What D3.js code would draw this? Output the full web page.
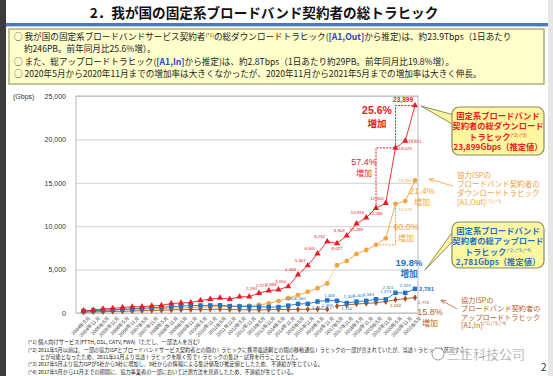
<!DOCTYPE html>
<html>
<head>
<meta charset="utf-8">
<script src="https://cdnjs.cloudflare.com/ajax/libs/d3/7.8.5/d3.min.js"></script>
<style>
body{margin:0;background:#fff;}
svg{display:block;font-family:"Noto Sans CJK JP","Noto Sans",sans-serif;}
</style>
</head>
<body>
<div id="chart"></div>
<script>
// half-year survey points
var months = ["2004年9月","2004年11月","2005年5月","2005年11月","2006年5月","2006年11月","2007年5月","2007年11月",
  "2008年5月","2008年11月","2009年5月","2009年11月","2010年5月","2010年11月","2011年5月","2011年11月",
  "2012年5月","2012年11月","2013年5月","2013年11月","2014年5月","2014年11月","2015年5月","2015年11月",
  "2016年5月","2016年11月","2017年5月","2017年11月","2018年5月","2018年11月","2019年5月","2019年11月",
  "2020年5月","2020年11月","2021年5月"];

// Gbps
var dlTotal = [265,324,470,523,637,717,721,813,881,1090,1155,1209,1450,1597,1738,1595,1869,1887,
  2290,2571,2689,3050,4408,5467,6840,8232,8027,8903,10289,10976,12086,12650,19025,19821,23899];
var dlIsp = [180,220,300,330,390,430,440,480,510,570,590,610,690,740,790,720,810,860,
  920,1120,1380,1700,2070,2450,2850,3400,5500,6000,6800,7260,7860,8600,12576,12900,15265];
var ulTotal = [230,290,330,380,430,480,540,600,650,740,800,850,870,880,900,800,760,740,
  720,691,690,850,1054,1060,1317,1459,1406,1150,1309,1401,1583,1573,2321,2323,2781];
var ulIsp = [100,130,150,180,200,230,260,290,320,360,380,400,420,430,440,400,380,370,
  360,380,400,410,420,430,440,430,800,920,1040,1100,1190,1300,1534,1650,1776];

var yTicks = [0,5000,10000,15000,20000,25000];

// which points carry a value label, and where it sits
var dlTotalLabels = [[18,"ul"],[19,"ul"],[20,"ul"],[21,"ul"],[22,"ul"],[23,"ul"],[24,"ul"],[25,"ul"],
  [26,"b"],[27,"ul"],[28,"b"],[29,"ul"],[30,"b"],[31,"ul"],[32,"r"],[33,"r"]];
var dlIspLabels = [[32,"rb"],[34,"l"]];
var ulTotalLabels = [[22,"ul"],[23,"ul"],[24,"b"],[25,"b"],[26,"ul"],[27,"b"],[28,"ul"],[29,"ul"],
  [30,"ul"],[31,"u"],[32,"ul"],[33,"u"]];
var ulIspLabels = [[32,"b"]];

var width = 553, height = 376;
var fmt = d3.format(",");
var latin = "Liberation Sans, Arial, sans-serif";

var svg = d3.select("#chart").append("svg")
    .attr("width", width)
    .attr("height", height);

// page frame
svg.append("rect").attr("width",width).attr("height",height).attr("fill","#fff");
svg.append("rect").attr("x",0).attr("y",0).attr("width",6).attr("height",height).attr("fill","#3c3c3c");
svg.append("rect").attr("x",548).attr("y",0).attr("width",5).attr("height",height).attr("fill","#e6e6e6");

// title
svg.append("text")
    .attr("x",264).attr("y",18)
    .attr("text-anchor","middle")
    .attr("font-size","13.6px").attr("font-weight","bold").attr("fill","#111")
    .text("2．我が国の固定系ブロードバンド契約者の総トラヒック");
svg.append("rect").attr("x",6).attr("y",23).attr("width",542).attr("height",3).attr("fill","#4a78b8");
svg.append("rect").attr("x",6).attr("y",26).attr("width",542).attr("height",1).attr("fill","#b8cbe6");

// summary box
svg.append("rect")
    .attr("x",9).attr("y",29).attr("width",535).attr("height",55)
    .attr("fill","#ffffcc").attr("stroke","#9a9a5a").attr("stroke-width",1.2);

var summary = svg.append("g").attr("font-size","8.6px").attr("fill","#222");
var s1 = summary.append("text").attr("x",14).attr("y",40);
s1.append("tspan").text("○ 我が国の固定系ブロードバンドサービス契約者");
s1.append("tspan").attr("font-size","5px").attr("dy",-3).text("(*1)");
s1.append("tspan").attr("dy",3).text("の総ダウンロードトラヒック(");
s1.append("tspan").attr("fill","#2244cc").attr("font-weight","bold").text("[A1,Out]");
s1.append("tspan").text("から推定)は、約23.9Tbps（1日あたり");
summary.append("text").attr("x",24).attr("y",52).text("約246PB。前年同月比25.6%増）。");
var s3 = summary.append("text").attr("x",14).attr("y",65);
s3.append("tspan").text("○ また、総アップロードトラヒック(");
s3.append("tspan").attr("fill","#2244cc").attr("font-weight","bold").text("[A1,In]");
s3.append("tspan").text("から推定)は、約2.8Tbps（1日あたり約29PB。前年同月比19.8%増）。");
summary.append("text").attr("x",14).attr("y",77)
    .text("○ 2020年5月から2020年11月までの増加率は大きくなかったが、2020年11月から2021年5月までの増加率は大きく伸長。");

// scales
var x = d3.scalePoint().domain(months).range([83.5, 415]);
var y = d3.scaleLinear().domain([0,25000]).range([313, 96]);
var plotL = 76, plotR = 418;

var layer1 = svg.append("g"); // grid
var layer2 = svg.append("g"); // lines
var layer3 = svg.append("g"); // labels

// grid lines
layer1.append("g")
    .attr("transform","translate(" + plotL + ",0)")
    .call(d3.axisLeft(y).tickValues(yTicks).tickSize(-(plotR-plotL)).tickFormat(""))
    .call(function(g){
      g.select(".domain").remove();
      g.selectAll("line").attr("stroke","#d0d0d0").attr("stroke-width",1);
    });
layer1.append("rect")
    .attr("x",plotL).attr("y",y(25000)).attr("width",plotR-plotL).attr("height",y(0)-y(25000))
    .attr("fill","none").attr("stroke","#b8b8b8");

// y axis labels
layer1.append("g")
    .attr("transform","translate(" + (plotL-7) + ",0)")
    .call(d3.axisLeft(y).tickValues(yTicks).tickSize(0).tickFormat(fmt))
    .call(function(g){
      g.select(".domain").remove();
      g.selectAll("text").attr("font-size","7px").attr("fill","#333").attr("font-family",latin);
    });
layer1.append("text").attr("x",13).attr("y",99).attr("font-size","7px").attr("fill","#333")
    .attr("font-family",latin).text("(Gbps)");

// x axis labels
layer1.append("g")
    .attr("transform","translate(0," + (y(0)+2) + ")")
    .call(d3.axisBottom(x).tickSize(0).tickFormat(function(d){return d;}))
    .call(function(g){
      g.select(".domain").remove();
      g.selectAll("text")
        .attr("font-size","5px").attr("fill","#333")
        .attr("text-anchor","end")
        .attr("dx","2").attr("dy","4")
        .attr("transform","rotate(-45)");
    });

// series
var series = [
  {vals: dlIsp, color:"#f5a340", shape:d3.symbolCircle, size:18, dash:[25], labels:dlIspLabels},
  {vals: ulIsp, color:"#a4501e", shape:d3.symbolDiamond, size:13, dash:[25], labels:ulIspLabels},
  {vals: ulTotal, color:"#1e74c6", shape:d3.symbolSquare, size:20, dash:[], labels:ulTotalLabels},
  {vals: dlTotal, color:"#ea1c24", shape:d3.symbolTriangle, size:17, dash:[], labels:dlTotalLabels}
];

series.forEach(function(s){
  // segment by segment so breaks can be dotted
  for (var i = 0; i < s.vals.length-1; i++){
    layer2.append("line")
      .attr("x1",x(months[i])).attr("y1",y(s.vals[i]))
      .attr("x2",x(months[i+1])).attr("y2",y(s.vals[i+1]))
      .attr("stroke",s.color).attr("stroke-width",0.9)
      .attr("stroke-dasharray", s.dash.indexOf(i) >= 0 ? "1.5,1.5" : null);
  }
  layer2.selectAll(null)
    .data(s.vals)
   .enter()
    .append("path")
    .attr("d", d3.symbol().type(s.shape).size(s.size))
    .attr("transform", function(d,i){ return "translate(" + x(months[i]) + "," + y(d) + ")"; })
    .attr("fill", s.color);

  // value labels
  layer3.selectAll(null)
    .data(s.labels)
   .enter()
    .append("text")
    .attr("font-size","4.4px")
    .attr("font-family",latin)
    .attr("fill", s.color)
    .attr("x", function(d){
      var px = x(months[d[0]]);
      if (d[1]=="ul") return px-2;
      if (d[1]=="r" || d[1]=="rb") return px+3;
      if (d[1]=="l") return px-3;
      return px;
    })
    .attr("y", function(d){
      var py = y(s.vals[d[0]]);
      if (d[1]=="ul") return py-3.5;
      if (d[1]=="u") return py-6;
      if (d[1]=="b" || d[1]=="rb") return py+7;
      return py+2;
    })
    .attr("text-anchor", function(d){
      if (d[1]=="ul" || d[1]=="l") return "end";
      if (d[1]=="r" || d[1]=="rb") return "start";
      return "middle";
    })
    .text(function(d){ return fmt(s.vals[d[0]]); });
});

// bold end values
layer3.append("text")
    .attr("x",x(months[34])-2).attr("y",y(dlTotal[34])-4)
    .attr("text-anchor","end").attr("font-size","6.5px").attr("font-weight","bold")
    .attr("font-family",latin).attr("fill","#ea1c24")
    .text(fmt(dlTotal[34]));
layer3.append("text")
    .attr("x",x(months[34])+4).attr("y",y(ulTotal[34])+2)
    .attr("font-size","6px").attr("font-weight","bold")
    .attr("font-family",latin).attr("fill","#1e74c6")
    .text(fmt(ulTotal[34]));
layer3.append("text")
    .attr("x",x(months[34])+3).attr("y",y(ulIsp[34])+6)
    .attr("font-size","4.4px")
    .attr("font-family",latin).attr("fill","#a4501e")
    .text(fmt(ulIsp[34]));

// growth brackets
function bracket(pts, color){
  layer2.append("path")
    .attr("d", d3.line()(pts))
    .attr("fill","none").attr("stroke",color).attr("stroke-width",1)
    .attr("stroke-dasharray","2,1.2");
}
bracket([[x(months[30]),y(dlTotal[30])],[x(months[30]),y(dlTotal[32])],[x(months[32]),y(dlTotal[32])]], "#ea1c24");
bracket([[x(months[32]),y(dlTotal[32])],[x(months[32]),y(dlTotal[34])],[x(months[34]),y(dlTotal[34])]], "#ea1c24");
bracket([[x(months[30]),y(dlIsp[30])],[x(months[32]),y(dlIsp[30])],[x(months[32]),y(dlIsp[32])]], "#f5a340");

function growth(px, py, pct, color, size, bold){
  var g = layer3.append("g").attr("fill",color)
    .attr("font-weight", bold ? "bold" : "normal").attr("text-anchor","middle");
  g.append("text").attr("x",px).attr("y",py).attr("font-size",(size*1.05)+"px").attr("font-family",latin).text(pct);
  g.append("text").attr("x",px).attr("y",py+size*1.25).attr("font-size",(size*0.95)+"px").text("増加");
}
growth(377, 114, "25.6%", "#ea1c24", 10, true);
growth(364, 165, "57.4%", "#ea1c24", 8.5, false);
growth(422, 194, "21.4%", "#f5a340", 8.5, false);
growth(406, 230, "60.0%", "#f5a340", 8.5, false);
growth(409, 266, "19.8%", "#1e74c6", 9, true);
growth(430, 315, "15.8%", "#c0602a", 8.5, false);

// callouts
function callout(bx, by, bw, bh, tip, color, lines){
  svg.append("path")
    .attr("d", d3.line()([[bx+2, by+8],[tip[0],tip[1]],[bx+2, by+18]]))
    .attr("fill","#fdf7a0").attr("stroke","#8c8c5c").attr("stroke-width",1);
  svg.append("rect")
    .attr("x",bx).attr("y",by).attr("width",bw).attr("height",bh).attr("rx",7)
    .attr("fill","#fdf7a0").attr("stroke","#8c8c5c").attr("stroke-width",1.2);
  svg.append("rect").attr("x",bx+0.8).attr("y",by+7).attr("width",3).attr("height",12).attr("fill","#fdf7a0");
  var t = svg.append("g").attr("fill",color).attr("font-weight","bold").attr("text-anchor","middle");
  lines.forEach(function(l,i){
    var tx = t.append("text").attr("x",bx+bw/2).attr("y",by+12+i*10.3).attr("font-size","8.3px");
    tx.append("tspan").text(l[0]);
    if (l[1]) tx.append("tspan").attr("font-size","4.5px").attr("font-weight","normal").attr("dy",-3).text(l[1]);
  });
}
callout(452, 107, 92, 48, [421,106], "#ea1c24",
  [["固定系ブロードバンド"],["契約者の総ダウンロード"],["トラヒック","(*2) (*3)"],["23,899Gbps（推定値）"]]);
callout(452, 222, 92, 46, [425,270], "#1e74c6",
  [["固定系ブロードバンド"],["契約者の総アップロード"],["トラヒック","(*2) (*3) (*4)"],["2,781Gbps（推定値）"]]);

function note(px, py, color, size, step, lines, arrow){
  var t = svg.append("g").attr("fill",color).attr("font-size",size+"px");
  lines.forEach(function(l,i){
    var tx = t.append("text").attr("x",px).attr("y",py+i*step);
    tx.append("tspan").text(l[0]);
    if (l[1]) tx.append("tspan").attr("font-size","4.3px").attr("dy",-2.5).text(l[1]);
  });
  svg.append("path").attr("d", d3.line()(arrow)).attr("fill","none").attr("stroke",color).attr("stroke-width",0.8);
  var a = arrow[1], b = arrow[0];
  var ang = Math.atan2(a[1]-b[1], a[0]-b[0]);
  svg.append("path")
    .attr("d", d3.line()([[a[0]-5*Math.cos(ang-0.4), a[1]-5*Math.sin(ang-0.4)], a, [a[0]-5*Math.cos(ang+0.4), a[1]-5*Math.sin(ang+0.4)]]))
    .attr("fill","none").attr("stroke",color).attr("stroke-width",0.8);
}
note(457, 178, "#f0a040", 7.5, 9, [["協力ISPの"],["ブロードバンド契約者の"],["ダウンロードトラヒック"],["[A1,Out]","(*2) (*3)"]], [[453,186],[429,179]]);
note(461, 303, "#b8602e", 7.2, 8.3, [["協力ISPの"],["ブロードバンド契約者の"],["アップロードトラヒック"],["[A1,In]","(*2) (*3) (*4)"]], [[457,309],[441,300]]);

// footnotes
var foot = svg.append("g").attr("font-size","5.2px").attr("fill","#222");
foot.append("text").attr("x",28).attr("y",344).text("(*1) 個人向けサービス(FTTH, DSL, CATV, FWA)（ただし、一部法人を含む）");
foot.append("text").attr("x",28).attr("y",352).text("(*2) 2011年5月以前は、一部の協力ISPとブロードバンドサービス契約者との間のトラヒックに携帯電話網との間の移動通信トラヒックの一部が含まれていたが、当該トラヒックを区別するこ");
foot.append("text").attr("x",40).attr("y",358.5).text("とが可能となったため、2011年11月より当該トラヒックを除く形でトラヒックの集計・試算を行うこととした。");
foot.append("text").attr("x",28).attr("y",366).text("(*3) 2017年5月より協力ISPが5社から9社に増加し、9社からの情報による集計値及び推定値としたため、不連続が生じている。");
foot.append("text").attr("x",28).attr("y",373.5).text("(*4) 2017年5月から11月までの期間に、協力事業者の一部において計測方法を見直したため、不連続が生じている。");

// watermark + page number
svg.append("circle").attr("cx",438).attr("cy",354).attr("r",6).attr("fill","#fff").attr("stroke","#999");
svg.append("text").attr("x",447).attr("y",359).attr("font-size","13px").attr("fill","#777")
    .attr("stroke","#fff").attr("stroke-width",0.4).text("三正科技公司");
svg.append("text").attr("x",541).attr("y",371).attr("font-size","10px").attr("fill","#333").text("2");
</script>
</body>
</html>
